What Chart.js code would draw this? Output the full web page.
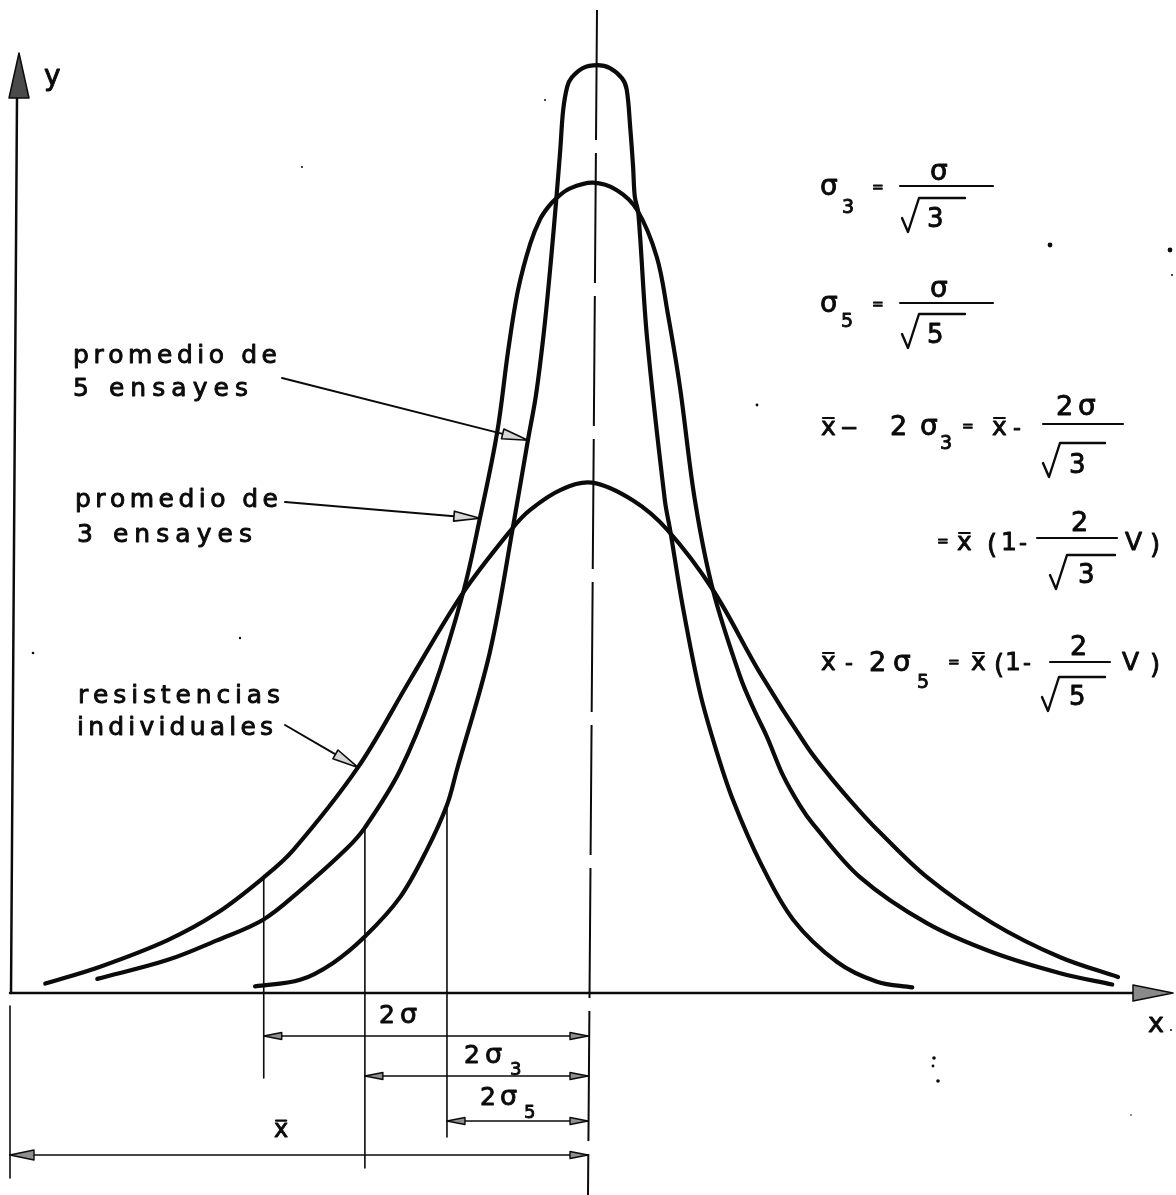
<!DOCTYPE html>
<html>
<head>
<meta charset="utf-8">
<script src="https://cdn.jsdelivr.net/npm/chart.js@4/dist/chart.umd.min.js"></script>
<style>
  html, body { margin: 0; padding: 0; background: #fff; }
  #wrap { width: 1176px; height: 1195px; }
</style>
</head>
<body>
<div id="wrap"><canvas id="c" width="1176" height="1195"></canvas></div>
<script>
// Resistance axis in relative units (mean x̄ = 100), frequency axis 0..100.

// Individual strengths (widest curve)
const individualX = [6.1, 15.6, 27.2, 35.8, 43.9, 49.0, 60.2, 69.2, 78.4, 87.0, 90.0, 95.2, 100.7, 107.8, 113.7, 121.6, 129.8, 137.9, 141.9, 146.5, 150.0, 158.7, 170.1, 181.7, 191.7];
const individualY = [1.0, 2.8, 5.6, 8.5, 12.3, 15.2, 24.0, 33.3, 42.6, 49.5, 51.4, 53.5, 54.3, 52.4, 49.3, 42.9, 34.0, 26.2, 23.0, 19.7, 17.4, 12.3, 7.4, 3.8, 1.7];

// Average of 3 tests
const avg3X = [15.1, 27.2, 35.8, 43.8, 50.2, 58.3, 61.4, 67.5, 73.2, 78.4, 81.3, 84.3, 86.2, 87.9, 90.0, 91.7, 93.1, 94.6, 96.9, 100.9, 105.0, 108.5, 111.9, 113.8, 115.9, 118.5, 121.6, 126.3, 128.6, 131.0, 133.7, 136.7, 138.9, 147.1, 158.7, 170.1, 181.7, 190.7];
const avg3Y = [1.5, 3.5, 5.6, 7.8, 10.9, 15.4, 17.6, 23.7, 32.2, 42.6, 50.5, 59.7, 68.4, 74.8, 79.7, 82.3, 83.6, 84.6, 85.6, 86.2, 85.4, 83.3, 78.3, 72.3, 64.5, 52.4, 42.9, 33.7, 30.3, 27.2, 23.2, 19.9, 18.0, 12.3, 7.4, 4.3, 2.1, 0.9];

// Average of 5 tests (narrowest curve)
const avg5X = [42.4, 50.2, 55.9, 61.4, 67.5, 72.1, 75.6, 77.3, 83.0, 87.0, 89.6, 91.0, 92.4, 93.6, 94.6, 95.2, 95.7, 96.4, 97.2, 99.1, 101.6, 103.8, 105.9, 106.7, 107.3, 107.8, 108.1, 108.7, 110.2, 113.3, 114.2, 116.4, 119.4, 122.3, 125.1, 129.8, 135.5, 143.1, 150.0, 156.1];
const avg5Y = [0.7, 1.4, 3.2, 6.0, 10.2, 15.2, 20.0, 23.7, 36.2, 49.5, 58.8, 63.6, 70.5, 78.0, 85.1, 89.7, 93.9, 96.4, 97.4, 98.4, 98.7, 98.4, 97.3, 96.1, 92.1, 87.9, 84.7, 83.0, 69.8, 52.4, 49.3, 41.1, 31.9, 25.6, 20.5, 13.9, 7.8, 3.3, 1.2, 0.6];

// Mean and the 2σ spans marked under the axis
const meanX = 100;
const twoSigma = 56.1;
const twoSigma3 = 38.6;
const twoSigma5 = 24.4;

const labelLines = {
  avg5: ['promedio de', '5 ensayes'],
  avg3: ['promedio de', '3 ensayes'],
  indiv: ['resistencias', 'individuales']
};

const ink = '#0b0b0b';
const pts = (xs, ys) => xs.map((x, i) => ({ x, y: ys[i] }));

function curveAt(xs, ys, v) {
  for (let i = 1; i < xs.length; i++) {
    if (v <= xs[i]) {
      const t = (v - xs[i - 1]) / (xs[i] - xs[i - 1]);
      return ys[i - 1] + t * (ys[i] - ys[i - 1]);
    }
  }
  return ys[ys.length - 1];
}

function line(ctx, x1, y1, x2, y2, w, dash) {
  ctx.save();
  ctx.strokeStyle = ink; ctx.lineWidth = w; ctx.lineCap = 'round';
  if (dash) ctx.setLineDash(dash);
  ctx.beginPath(); ctx.moveTo(x1, y1); ctx.lineTo(x2, y2); ctx.stroke();
  ctx.restore();
}

function head(ctx, tx, ty, ang, len, hw, fill, w) {
  const bx = tx - Math.cos(ang) * len, by = ty - Math.sin(ang) * len;
  const nx = -Math.sin(ang) * hw, ny = Math.cos(ang) * hw;
  ctx.save();
  ctx.strokeStyle = ink; ctx.lineWidth = w || 1.5; ctx.lineJoin = 'round';
  ctx.beginPath(); ctx.moveTo(tx, ty); ctx.lineTo(bx + nx, by + ny); ctx.lineTo(bx - nx, by - ny); ctx.closePath();
  ctx.fillStyle = fill; ctx.fill(); ctx.stroke();
  ctx.restore();
}

// pen-lettering: glyphs filled and outlined for a heavier stroke
function glyph(ctx, str, x, base) {
  ctx.fillText(str, x, base);
  ctx.strokeText(str, x, base);
}

function setFont(ctx, size) {
  ctx.font = size + 'px "DejaVu Sans"';
  ctx.fillStyle = ink; ctx.strokeStyle = ink; ctx.lineWidth = 0.9; ctx.lineJoin = 'round';
  ctx.textAlign = 'left'; ctx.textBaseline = 'alphabetic';
}

function put(ctx, str, x, base, size) {
  setFont(ctx, size);
  glyph(ctx, str, x, base);
}

// text spread evenly across a given width (lettering style)
function spaced(ctx, str, x, base, width, size) {
  setFont(ctx, size);
  const chars = [...str];
  const ws = chars.map(c => ctx.measureText(c).width);
  const total = ws.reduce((a, b) => a + b, 0);
  const gap = chars.length > 1 ? (width - total) / (chars.length - 1) : 0;
  let cx = x;
  chars.forEach((c, i) => { glyph(ctx, c, cx, base); cx += ws[i] + gap; });
}

function xbar(ctx, x, base, size) {
  put(ctx, 'x', x, base, size);
  ctx.font = size + 'px "DejaVu Sans"';
  const w = ctx.measureText('x').width;
  line(ctx, x + 2, base - size * 0.68, x + w - 2, base - size * 0.68, 2.2);
}

function radical(ctx, x0, top, x1) {
  ctx.save();
  ctx.strokeStyle = ink; ctx.lineWidth = 2.4; ctx.lineJoin = 'round'; ctx.lineCap = 'round';
  ctx.beginPath();
  ctx.moveTo(x0, top + 20);
  ctx.lineTo(x0 + 6, top + 34);
  ctx.lineTo(x0 + 17, top);
  ctx.lineTo(x1, top);
  ctx.stroke();
  ctx.restore();
}

const drawing = {
  id: 'drawing',
  beforeDatasetsDraw(chart) {
    const ctx = chart.ctx;
    const sx = chart.scales.x, sy = chart.scales.y;
    const X = v => sx.getPixelForValue(v), Y = v => sy.getPixelForValue(v);
    const ca = chart.chartArea;
    const x0 = X(0), y0 = Y(0);

    // y axis with arrow
    line(ctx, x0 + 1, y0, x0 + 7, ca.top + 45, 2.5);
    head(ctx, x0 + 9, ca.top, Math.PI / -2, 45, 10, '#4a4a4a', 1.5);
    // x axis with arrow
    line(ctx, x0, y0, ca.right - 33, y0, 2.5);
    head(ctx, ca.right + 7, y0, 0, 40, 8, '#8a8a8a', 1.5);

    // centre line through the mean
    const xm = X(meanX);
    ctx.save();
    ctx.strokeStyle = ink; ctx.lineWidth = 2; ctx.setLineDash([130, 13]);
    ctx.beginPath(); ctx.moveTo(xm + 9, 10); ctx.lineTo(xm, chart.height); ctx.stroke();
    ctx.restore();

    // extension lines at x̄ - 2σ
    const xa = meanX - twoSigma, xb = meanX - twoSigma3, xc = meanX - twoSigma5;
    line(ctx, x0, y0 + 13, x0, y0 + 185, 1.6);
    line(ctx, X(xa), Y(curveAt(individualX, individualY, xa)), X(xa), y0 + 85, 1.6);
    line(ctx, X(xb), Y(curveAt(avg3X, avg3Y, xb)), X(xb), y0 + 175, 1.6);
    line(ctx, X(xc), Y(curveAt(avg5X, avg5Y, xc)), X(xc), y0 + 144, 1.6);

    // dimension arrows
    const rows = [[xa, 43], [xb, 83], [xc, 128], [0, 162]];
    rows.forEach(([from, off], i) => {
      const yy = y0 + off;
      line(ctx, X(from), yy, xm, yy, 1.6);
      const big = i === 3;
      head(ctx, X(from), yy, Math.PI, big ? 24 : 18, big ? 5 : 3.5, '#8f8f8f', 1.4);
      head(ctx, xm, yy, 0, 18, 3.5, '#8f8f8f', 1.4);
    });
  },
  afterDatasetsDraw(chart) {
    const ctx = chart.ctx;
    const sx = chart.scales.x, sy = chart.scales.y;
    const X = v => sx.getPixelForValue(v), Y = v => sy.getPixelForValue(v);

    // curve labels and leaders
    spaced(ctx, labelLines.avg5[0], 73, 363, 204, 25);
    spaced(ctx, labelLines.avg5[1], 73, 396, 175, 25);
    spaced(ctx, labelLines.avg3[0], 75, 507, 203, 25);
    spaced(ctx, labelLines.avg3[1], 77, 542, 175, 25);
    spaced(ctx, labelLines.indiv[0], 78, 703, 202, 25);
    spaced(ctx, labelLines.indiv[1], 77, 735, 196, 25);

    const leaders = [
      [282, 378, X(avg5X[10]), Y(avg5Y[10])],
      [285, 502, X(avg3X[10]), Y(avg3Y[10])],
      [285, 725, X(individualX[6]), Y(individualY[6])]
    ];
    leaders.forEach(([ax, ay, tx, ty]) => {
      const ang = Math.atan2(ty - ay, tx - ax);
      line(ctx, ax, ay, tx - Math.cos(ang) * 20, ty - Math.sin(ang) * 20, 2);
      head(ctx, tx, ty, ang, 26, 5, '#d6d6d6', 1.6);
    });

    // axis names
    put(ctx, 'y', 44, 85, 28);
    put(ctx, 'x', 1148, 1032, 27);

    // dimension labels
    put(ctx, '2', 379, 1023, 25); put(ctx, 'σ', 400, 1023, 27);
    put(ctx, '2', 464, 1063, 25); put(ctx, 'σ', 485, 1063, 27); put(ctx, '3', 510, 1075, 18);
    put(ctx, '2', 480, 1105, 25); put(ctx, 'σ', 500, 1105, 27); put(ctx, '5', 524, 1118, 18);
    xbar(ctx, 274, 1137, 24);

    // σ3 = σ / √3
    put(ctx, 'σ', 820, 195, 28); put(ctx, '3', 842, 213, 19); put(ctx, '=', 872, 192, 14);
    put(ctx, 'σ', 930, 180, 28); line(ctx, 900, 186, 993, 186, 2.2);
    radical(ctx, 902, 198, 965); put(ctx, '3', 927, 227, 26);

    // σ5 = σ / √5
    put(ctx, 'σ', 820, 312, 28); put(ctx, '5', 841, 327, 19); put(ctx, '=', 872, 309, 14);
    put(ctx, 'σ', 930, 297, 28); line(ctx, 900, 303, 993, 303, 2.2);
    radical(ctx, 902, 314, 965); put(ctx, '5', 927, 343, 26);

    // x̄ − 2σ3 = x̄ − 2σ/√3
    xbar(ctx, 821, 435, 25); put(ctx, '−', 840, 435, 22);
    put(ctx, '2', 890, 435, 27); put(ctx, 'σ', 920, 435, 28); put(ctx, '3', 940, 449, 19);
    put(ctx, '=', 962, 431, 14); xbar(ctx, 992, 435, 25); put(ctx, '-', 1013, 435, 22);
    put(ctx, '2', 1056, 415, 27); put(ctx, 'σ', 1078, 415, 28); line(ctx, 1043, 424, 1123, 424, 2.2);
    radical(ctx, 1043, 443, 1105); put(ctx, '3', 1069, 473, 26);

    // = x̄ (1 − 2/√3 V)
    put(ctx, '=', 937, 546, 14); xbar(ctx, 957, 550, 25); put(ctx, '(', 987, 553, 26);
    put(ctx, '1', 1001, 550, 25); put(ctx, '-', 1019, 550, 22);
    put(ctx, '2', 1071, 531, 27); line(ctx, 1037, 538, 1117, 538, 2.2);
    radical(ctx, 1050, 555, 1115); put(ctx, '3', 1078, 583, 26);
    put(ctx, 'V', 1125, 550, 25); put(ctx, ')', 1150, 553, 26);

    // x̄ − 2σ5 = x̄ (1 − 2/√5 V)
    xbar(ctx, 821, 670, 25); put(ctx, '-', 845, 670, 22);
    put(ctx, '2', 869, 671, 27); put(ctx, 'σ', 893, 671, 28); put(ctx, '5', 917, 688, 19);
    put(ctx, '=', 948, 667, 14); xbar(ctx, 971, 670, 25); put(ctx, '(', 994, 673, 26);
    put(ctx, '1', 1005, 670, 25); put(ctx, '-', 1023, 670, 22);
    put(ctx, '2', 1070, 655, 27); line(ctx, 1050, 662, 1110, 662, 2.2);
    radical(ctx, 1042, 677, 1105); put(ctx, '5', 1069, 705, 26);
    put(ctx, 'V', 1122, 670, 25); put(ctx, ')', 1150, 673, 26);

    // stray specks of the drawing sheet
    const specks = [[1050, 245, 2.4], [1170, 250, 2.4], [1172, 275, 1], [934, 1058, 1.8], [933, 1066, 1.4],
      [938, 1081, 1.8], [757, 405, 1.4], [302, 167, 1], [240, 638, 1.2], [33, 653, 1.3], [1171, 1030, 1], [1131, 1115, 0.8], [545, 100, 1]];
    ctx.fillStyle = ink;
    specks.forEach(([x, y, r]) => { ctx.beginPath(); ctx.arc(x, y, r, 0, Math.PI * 2); ctx.fill(); });
  }
};

const curveStyle = {
  showLine: true, pointRadius: 0, borderColor: ink, borderWidth: 4.2,
  borderCapStyle: 'round', borderJoinStyle: 'round', tension: 0.35, clip: false
};

new Chart(document.getElementById('c'), {
  type: 'scatter',
  data: {
    datasets: [
      Object.assign({ label: 'resistencias individuales', data: pts(individualX, individualY) }, curveStyle),
      Object.assign({ label: 'promedio de 3 ensayes', data: pts(avg3X, avg3Y) }, curveStyle),
      Object.assign({ label: 'promedio de 5 ensayes', data: pts(avg5X, avg5Y) }, curveStyle)
    ]
  },
  options: {
    responsive: false,
    devicePixelRatio: 1,
    animation: false,
    layout: { padding: { left: 10, right: 10, top: 53, bottom: 202 } },
    scales: {
      x: { type: 'linear', min: 0, max: 200, display: false },
      y: { type: 'linear', min: 0, max: 100, display: false }
    },
    plugins: { legend: { display: false }, tooltip: { enabled: false } }
  },
  plugins: [drawing]
});
</script>
</body>
</html>
